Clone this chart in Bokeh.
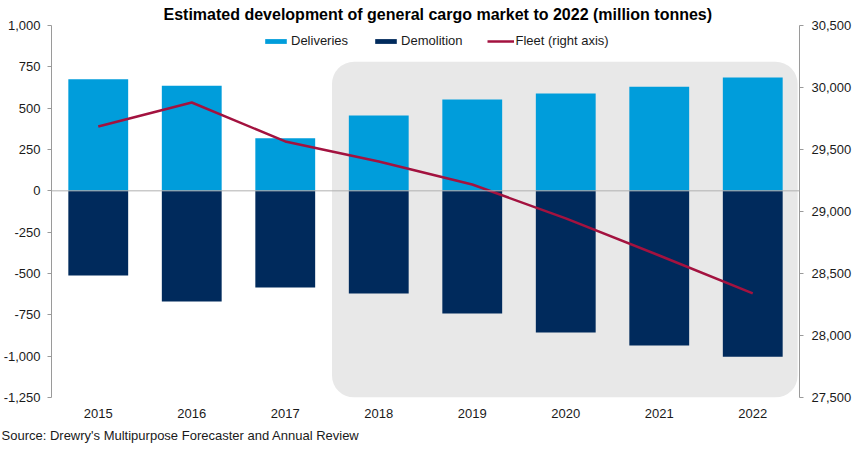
from bokeh.plotting import figure
from bokeh.models import (ColumnDataSource, Range1d, LinearAxis, FixedTicker, NumeralTickFormatter,
                          Span, BoxAnnotation, Legend, LegendItem, Title, FactorRange)
from bokeh.embed import file_html
from bokeh.resources import INLINE

years = ["2015", "2016", "2017", "2018", "2019", "2020", "2021", "2022"]
deliveries = [675, 635, 318, 455, 552, 589, 629, 685]
demolition = [-512, -670, -585, -621, -742, -857, -936, -1003]
fleet = [29685, 29879, 29565, 29403, 29218, 28944, 28645, 28339]
forecast_start = "2018"
left_ticks = [-1250, -1000, -750, -500, -250, 0, 250, 500, 750, 1000]
right_ticks = [27500, 28000, 28500, 29000, 29500, 30000, 30500]
title_text = "Estimated development of general cargo market to 2022 (million tonnes)"
source_text = "Source: Drewry's Multipurpose Forecaster and Annual Review"

FONT = "Liberation Sans"
TXT = "#1a1a1a"
AX = "#9a9a9a"
FW, FH = 748, 372

src = ColumnDataSource(dict(year=years, dl=deliveries, dm=demolition, fl=fleet))

p = figure(x_range=FactorRange(*years), y_range=Range1d(left_ticks[0], left_ticks[-1]),
           frame_width=FW, frame_height=FH, output_backend="svg", toolbar_location=None,
           min_border_left=51, min_border_right=67, min_border_top=25, min_border_bottom=50)
p.x_range.range_padding = 0
p.outline_line_color = None
p.xgrid.visible = False
p.ygrid.visible = False

p.title.text = title_text
p.title.text_font = FONT
p.title.text_font_size = "16px"
p.title.text_font_style = "bold"
p.title.text_color = "#000000"
p.title.align = "left"
p.title.offset = 112
p.title.standoff = 5

# shaded forecast region
box = BoxAnnotation(left=years.index(forecast_start), right=len(years) - 0.02,
                    bottom=left_ticks[0], top=780, fill_color="#e8e8e8", fill_alpha=1,
                    line_alpha=0, border_radius=22, level="underlay")
p.add_layout(box)

r1 = p.vbar(x="year", top="dl", bottom=0, width=0.64, source=src, fill_color="#009ddb",
            line_color=None)
r2 = p.vbar(x="year", top=0, bottom="dm", width=0.64, source=src, fill_color="#002a5c",
            line_color=None)

p.add_layout(Span(location=0, dimension="width", line_color="#b0b0b0", line_width=1))

p.extra_y_ranges = {"fleet": Range1d(right_ticks[0], right_ticks[-1])}
r3 = p.line(x="year", y="fl", source=src, y_range_name="fleet", line_color="#a3123f",
            line_width=2.5)

# left axis
ya = p.yaxis[0]
ya.ticker = FixedTicker(ticks=left_ticks)
ya.formatter = NumeralTickFormatter(format="0,0")
ya.axis_line_color = AX
ya.major_tick_line_color = AX
ya.major_tick_out = 4
ya.major_tick_in = 0
ya.minor_tick_line_color = None
ya.major_label_standoff = 7
ya.major_label_text_font = FONT
ya.major_label_text_font_size = "13px"
ya.major_label_text_color = TXT

# right axis
ra = LinearAxis(y_range_name="fleet", ticker=FixedTicker(ticks=right_ticks),
                formatter=NumeralTickFormatter(format="0,0"))
ra.axis_line_color = AX
ra.major_tick_line_color = AX
ra.major_tick_out = 4
ra.major_tick_in = 0
ra.minor_tick_line_color = None
ra.major_label_standoff = 8
ra.major_label_text_font = FONT
ra.major_label_text_font_size = "13px"
ra.major_label_text_color = TXT
p.add_layout(ra, "right")

# x axis
xa = p.xaxis[0]
xa.axis_line_color = None
xa.major_tick_line_color = None
xa.minor_tick_line_color = None
xa.major_label_standoff = 5
xa.major_label_text_font = FONT
xa.major_label_text_font_size = "13px"
xa.major_label_text_color = TXT

# legend
legend = Legend(items=[LegendItem(label="Deliveries", renderers=[r1]),
                       LegendItem(label="Demolition", renderers=[r2]),
                       LegendItem(label="Fleet (right axis)", renderers=[r3])],
                orientation="horizontal", location=(211, 349),
                background_fill_alpha=0, border_line_alpha=0, margin=0, padding=0,
                glyph_width=27, glyph_height=6, label_standoff=2, spacing=24,
                label_text_font=FONT, label_text_font_size="13px", label_text_color=TXT)
p.add_layout(legend, "center")

src_title = Title(text=source_text, text_font=FONT, text_font_size="13px",
                  text_font_style="normal", text_color=TXT, align="left",
                  offset=-50, standoff=10)
p.add_layout(src_title, "below")

open("out.html", "w").write(file_html(p, INLINE))
